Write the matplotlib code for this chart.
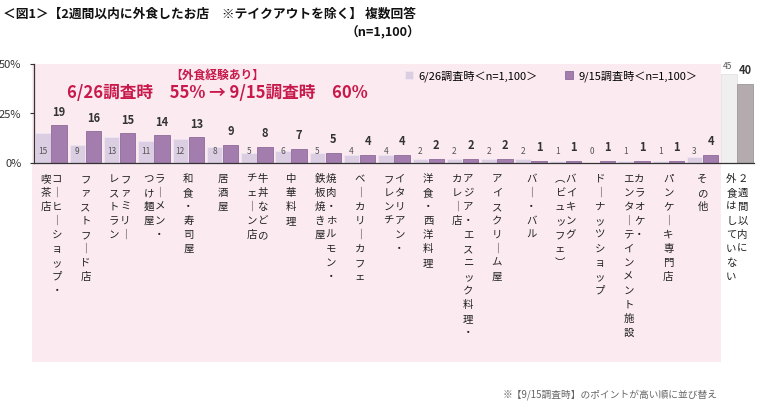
import matplotlib
matplotlib.use('Agg')
import matplotlib.pyplot as plt
import matplotlib.transforms as mtransforms
from matplotlib.patches import Rectangle
import numpy as np

plt.rcParams['font.family'] = ['Noto Sans CJK JP', 'DejaVu Sans']

# Datos (columnas de etiqueta en orden vertical: derecha -> izquierda)
categorias = [
    ['コーヒーショップ・', '喫茶店'],
    ['ファストフード店'],
    ['ファミリー', 'レストラン'],
    ['ラーメン・', 'つけ麺屋'],
    ['和食・寿司屋'],
    ['居酒屋'],
    ['牛丼などの', 'チェーン店'],
    ['中華料理'],
    ['焼肉・ホルモン・', '鉄板焼き屋'],
    ['ベーカリーカフェ'],
    ['イタリアン・', 'フレンチ'],
    ['洋食・西洋料理'],
    ['アジア・エスニック料理・', 'カレー店'],
    ['アイスクリーム屋'],
    ['バー・バル'],
    ['バイキング', '（ビュッフェ）'],
    ['ドーナッツショップ'],
    ['カラオケ・', 'エンターテインメント施設'],
    ['パンケーキ専門店'],
    ['その他'],
    ['２週間以内に', '外食はしていない'],
]
valores_0626 = [15, 9, 13, 11, 12, 8, 5, 6, 5, 4, 4, 2, 2, 2, 2, 1, 0, 1, 1, 3, 45]
valores_0915 = [19, 16, 15, 14, 13, 9, 8, 7, 5, 4, 4, 2, 2, 2, 1, 1, 1, 1, 1, 4, 40]
serie_labels = ['6/26調査時＜n=1,100＞', '9/15調査時＜n=1,100＞']
yticks = [0, 25, 50]
ytick_labels = ['0%', '25%', '50%']

W, H = 760, 419
fig = plt.figure(figsize=(W / 100, H / 100), dpi=100)

# Fondo rosa detrás del área del gráfico
fig.add_artist(Rectangle((32 / W, 1 - 362 / H), (721 - 32) / W, (362 - 64) / H,
                         transform=fig.transFigure, facecolor='#fbebf1',
                         edgecolor='none', zorder=0))

ax = fig.add_axes([34 / W, 1 - 163 / H, 720 / W, 99 / H])
ax.set_facecolor('none')

n = len(valores_0626)
x = np.arange(n)
bw = 0.45
off = 0.235

col_claro = ['#dbcde2'] * (n - 1) + ['#efefef']
col_oscuro = ['#a47daf'] * (n - 1) + ['#b3abae']
edge_claro = ['#efe6f2'] * (n - 1) + ['#e2e2e2']
edge_oscuro = ['#8f6a9a'] * (n - 1) + ['#9e9699']

b1 = ax.bar(x - off, valores_0626, bw, color=col_claro, edgecolor=edge_claro,
            linewidth=0.6, label=serie_labels[0], zorder=2)
b2 = ax.bar(x + off, valores_0915, bw, color=col_oscuro, edgecolor=edge_oscuro,
            linewidth=0.6, label=serie_labels[1], zorder=2)

# Etiquetas de valores
for i, v in enumerate(valores_0626):
    if v < 30:
        ax.text(i - off, 6, str(v), ha='center', va='center', fontsize=6,
                color='#555555', zorder=3)
    else:
        ax.annotate(str(v), (i - off, v), xytext=(-1, 5), textcoords='offset points',
                    ha='center', va='center', fontsize=6, color='#555555')
for i, v in enumerate(valores_0915):
    ax.annotate(str(v), (i + off, v), xytext=(0, 9.5), textcoords='offset points',
                ha='center', va='center', fontsize=8, fontweight='bold',
                color='#333333')

ax.set_xlim(-0.5, n - 0.5)
ax.set_ylim(0, 50)
ax.set_yticks(yticks)
ax.set_yticklabels(ytick_labels, fontsize=8, color='#333333')
ax.set_xticks([])
ax.tick_params(axis='y', length=3, width=0.8, color='#333333', pad=6)
for s in ['top', 'right']:
    ax.spines[s].set_visible(False)
ax.spines['left'].set_color('#333333')
ax.spines['bottom'].set_color('#333333')
ax.spines['left'].set_linewidth(0.9)
ax.spines['bottom'].set_linewidth(0.9)

# Etiquetas de categoría en escritura vertical
vert_map = {'ー': '｜', '（': '︵', '）': '︶'}
pitch_px = 14
trans_base = mtransforms.blended_transform_factory(ax.transData, ax.transAxes)
for i, cols in enumerate(categorias):
    if len(cols) == 1:
        dxs = [0]
    else:
        dxs = [5.5, -5.5]
    for dx, col in zip(dxs, cols):
        for k, ch in enumerate(col):
            ch = vert_map.get(ch, ch)
            t = trans_base + mtransforms.ScaledTranslation(
                dx / 100, -(16 + pitch_px * k) / 100, fig.dpi_scale_trans)
            ax.text(i, 0, ch, transform=t, ha='center', va='center',
                    fontsize=7.5, color='#222222', clip_on=False)

# Leyenda
fig.legend(handles=[b1, b2], labels=serie_labels, loc='center left',
           bbox_to_anchor=(405 / W, 1 - 76 / H), ncol=2, frameon=False,
           fontsize=8, handlelength=0.7, handleheight=0.7, handletextpad=0.5,
           columnspacing=2.5, borderpad=0, borderaxespad=0)

# Texto destacado
fig.text(217 / W, 1 - 75 / H, '【外食経験あり】', ha='center', va='center',
         fontsize=8.5, fontweight='bold', color='#c8194b')
fig.text(217 / W, 1 - 93 / H, '6/26調査時　55% → 9/15調査時　60%', ha='center',
         va='center', fontsize=12, fontweight='bold', color='#c8194b')

# Título
fig.text(3 / W, 1 - 14 / H, '＜図1＞【2週間以内に外食したお店　※テイクアウトを除く】 複数回答',
         ha='left', va='center', fontsize=9.2, fontweight='bold', color='#111111')
fig.text(383 / W, 1 - 33 / H, '（n=1,100）', ha='center', va='center',
         fontsize=9.2, fontweight='bold', color='#111111')

# Nota
fig.text(503 / W, 1 - 395 / H, '※【9/15調査時】のポイントが高い順に並び替え',
         ha='left', va='center', fontsize=7, color='#666666')

fig.savefig('out.png', dpi=100)
